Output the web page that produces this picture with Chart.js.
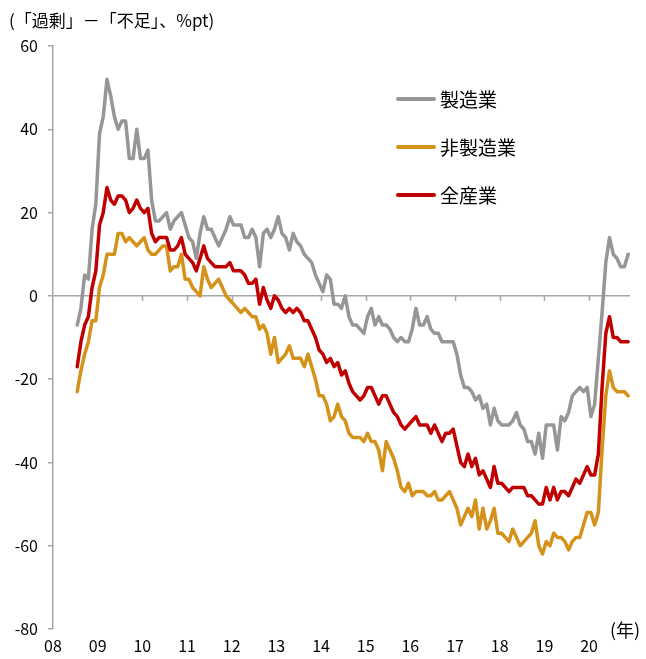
<!DOCTYPE html>
<html><head><meta charset="utf-8">
<script src="https://cdn.jsdelivr.net/npm/chart.js@4.4.0/dist/chart.umd.min.js"></script>
<style>html,body{margin:0;padding:0;background:#fff}#wrap{width:646px;height:659px;position:relative}</style>
</head><body><div id="wrap"><canvas id="c" width="646" height="659"></canvas></div>
<script>
const seriesNames = ['製造業', '非製造業', '全産業'];
const yearLabels = ['08','09','10','11','12','13','14','15','16','17','18','19','20'];
const startMonth = 6; // first observation: Jul 2008 (months counted from Jan 2008)
const yAxisTitle = '(「過剰」－「不足」、%pt)';
const xAxisUnit = '(年)';

const manufacturing = [
  -7, -3, 5, 4, 16, 22, 39, 43, 52, 48,
  43, 40, 42, 42, 33, 33, 40, 33, 33, 35,
  23, 18, 18, 19, 20, 16, 18, 19, 20, 17,
  14, 13, 9, 15, 19, 16, 16, 14, 12, 14,
  16, 19, 17, 17, 17, 14, 14, 16, 14, 7,
  15, 16, 14, 16, 19, 15, 14, 11, 15, 13,
  12, 10, 9, 8, 5, 3, 1, 5, 4, -2,
  -2, -3, 0, -5, -7, -7, -8, -9, -5, -3,
  -7, -5, -7, -7, -8, -10, -11, -10, -11, -11,
  -8, -3, -7, -7, -5, -8, -9, -9, -11, -11,
  -11, -11, -14, -19, -22, -22, -23, -25, -24, -27,
  -26, -31, -27, -30, -31, -31, -31, -30, -28, -31,
  -32, -35, -35, -38, -33, -39, -31, -31, -31, -37,
  -29, -30, -28, -24, -23, -22, -23, -22, -29, -26,
  -15, -4, 8, 14, 10, 9, 7, 7, 10
];
const nonManufacturing = [
  -23, -18, -14, -11, -6, -6, 2, 5, 10, 10,
  10, 15, 15, 13, 14, 13, 12, 13, 14, 11,
  10, 10, 11, 12, 12, 6, 7, 7, 10, 4,
  4, 2, 1, 0, 7, 4, 2, 3, 4, 2,
  0, -1, -2, -3, -4, -3, -4, -5, -5, -8,
  -7, -9, -14, -10, -16, -15, -14, -12, -15, -15,
  -15, -17, -14, -17, -20, -24, -24, -26, -30, -29,
  -26, -29, -30, -33, -34, -34, -34, -35, -33, -35,
  -35, -37, -42, -35, -37, -39, -42, -46, -47, -45,
  -48, -47, -47, -47, -48, -48, -47, -49, -49, -48,
  -47, -49, -51, -55, -53, -51, -53, -49, -56, -51,
  -56, -54, -51, -57, -57, -58, -59, -56, -58, -60,
  -59, -58, -57, -54, -60, -62, -59, -60, -57, -58,
  -58, -59, -61, -59, -58, -58, -55, -52, -52, -55,
  -52, -37, -24, -18, -22, -23, -23, -23, -24
];
const allIndustries = [
  -17, -11, -7, -5, 2, 6, 17, 20, 26, 23,
  22, 24, 24, 23, 20, 21, 23, 21, 20, 21,
  15, 13, 14, 14, 14, 11, 11, 12, 14, 10,
  9, 8, 6, 9, 12, 9, 8, 7, 7, 7,
  7, 8, 6, 6, 6, 5, 3, 3, 4, -2,
  2, -1, -3, 0, -1, -3, -4, -3, -4, -3,
  -4, -6, -6, -8, -10, -13, -14, -16, -15, -17,
  -16, -19, -18, -21, -23, -24, -25, -24, -22, -22,
  -24, -26, -24, -24, -26, -28, -29, -31, -32, -31,
  -30, -29, -31, -31, -31, -33, -31, -33, -35, -33,
  -33, -32, -36, -40, -41, -38, -41, -39, -43, -42,
  -44, -46, -41, -45, -45, -46, -47, -46, -46, -46,
  -46, -48, -48, -49, -50, -50, -46, -49, -46, -49,
  -47, -47, -48, -46, -44, -45, -43, -41, -43, -43,
  -38, -22, -9, -5, -10, -10, -11, -11, -11
];

const colors = ['#969696', '#D4921A', '#C00000'];
const axisColor = '#a6a6a6';
const jpFont = '"Noto Sans CJK JP", "Noto Sans", sans-serif';

function toPoints(values) {
  return values.map((v, i) => ({ x: startMonth + i + 0.5, y: v }));
}

const decor = {
  id: 'decor',
  beforeDatasetsDraw(chart) {
    const { ctx, scales: { x, y } } = chart;
    const y0 = y.getPixelForValue(0);
    ctx.save();
    ctx.strokeStyle = axisColor;
    ctx.lineWidth = 1.5;
    x.ticks.forEach(t => {
      if (t.value <= 0) return;
      const px = Math.round(x.getPixelForValue(t.value)) + 0.5;
      ctx.beginPath();
      ctx.moveTo(px, y0);
      ctx.lineTo(px, y0 + 5);
      ctx.stroke();
    });
    ctx.restore();
  },
  afterDraw(chart) {
    const { ctx, chartArea } = chart;
    ctx.save();
    ctx.fillStyle = '#000';
    ctx.textBaseline = 'middle';
    ctx.textAlign = 'left';
    ctx.font = '17px ' + jpFont;
    ctx.fillText(yAxisTitle, 9, 21);
    ctx.font = '18px ' + jpFont;
    ctx.fillText(xAxisUnit, chartArea.right - 20, chartArea.bottom + 1);
    // legend
    const lx = 396, ly = 99, gap = 48;
    ctx.font = '19px ' + jpFont;
    chart.data.datasets.forEach((ds, i) => {
      const yy = ly + i * gap;
      ctx.strokeStyle = ds.borderColor;
      ctx.lineWidth = 4;
      ctx.lineCap = 'round';
      ctx.beginPath();
      ctx.moveTo(lx + 2, yy);
      ctx.lineTo(lx + 38, yy);
      ctx.stroke();
      ctx.fillStyle = '#000';
      ctx.fillText(ds.label, lx + 44, yy + 1);
    });
    ctx.restore();
  }
};

new Chart(document.getElementById('c'), {
  type: 'line',
  data: {
    datasets: [
      { label: seriesNames[0], data: toPoints(manufacturing), borderColor: colors[0], order: 3 },
      { label: seriesNames[1], data: toPoints(nonManufacturing), borderColor: colors[1], order: 2 },
      { label: seriesNames[2], data: toPoints(allIndustries), borderColor: colors[2], order: 1 }
    ]
  },
  options: {
    responsive: false,
    animation: false,
    devicePixelRatio: 1,
    layout: { padding: { top: 46, left: 10, right: 16, bottom: 0 } },
    elements: {
      line: { borderWidth: 3.5, tension: 0, borderJoinStyle: 'round', borderCapStyle: 'round', fill: false },
      point: { radius: 0, hoverRadius: 0 }
    },
    plugins: { legend: { display: false }, tooltip: { enabled: false }, title: { display: false } },
    scales: {
      x: {
        type: 'linear',
        min: 0,
        max: 155,
        afterFit: s => { s.height = 30; },
        grid: { display: false, drawTicks: false },
        border: { display: false },
        ticks: {
          stepSize: 12,
          includeBounds: false,
          padding: 7,
          autoSkip: false,
          maxRotation: 0,
          color: '#000',
          font: { size: 16, family: jpFont },
          callback: v => yearLabels[v / 12]
        }
      },
      y: {
        min: -80,
        max: 60,
        afterFit: s => { s.width = 43; },
        border: { display: true, color: axisColor, width: 1.5 },
        grid: {
          drawOnChartArea: true,
          drawTicks: true,
          tickLength: 5,
          lineWidth: 1.5,
          color: c => (c.tick && c.tick.value === 0 ? axisColor : 'rgba(0,0,0,0)'),
          tickColor: axisColor
        },
        ticks: {
          stepSize: 20,
          padding: 10,
          color: '#000',
          font: { size: 16, family: jpFont }
        }
      }
    }
  },
  plugins: [decor]
});
</script>
</body></html>
